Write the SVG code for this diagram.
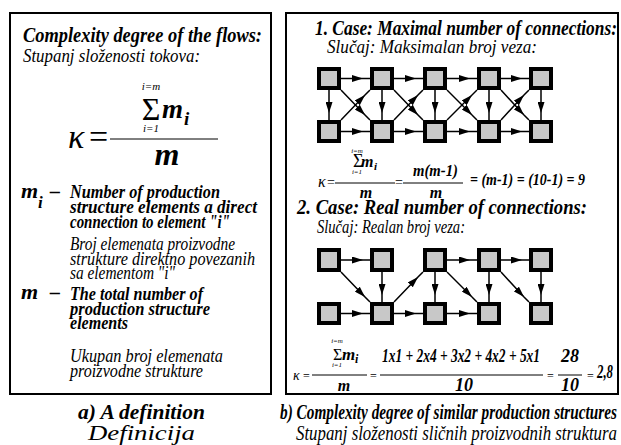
<svg xmlns="http://www.w3.org/2000/svg" width="621" height="445" viewBox="0 0 621 445">
<defs>
<style>
text{font-family:"Liberation Serif","DejaVu Serif","Noto Serif",serif;fill:#000}
.bi{font-weight:bold;font-style:italic}
.it{font-style:italic}
.panel{fill:#fff;stroke:#000;stroke-width:2}
.node rect{fill:#c8c8c8;stroke:#000;stroke-width:4}
.fl{stroke:#000;stroke-width:1}
#connectors path{fill:none;stroke:#000;stroke-width:1.5;marker-mid:url(#ah)}
</style>
<marker id="ah" viewBox="0 0 11 7" refX="11" refY="3.5" markerWidth="11" markerHeight="7" markerUnits="userSpaceOnUse" orient="auto">
<path d="M0,0 L11,3.5 L0,7 z" fill="#000"/>
</marker>
</defs>
<rect width="621" height="445" fill="#fff"/>

<g id="panel-a">
<rect class="panel" x="10" y="13" width="261" height="381"/>
<text class="bi" x="23" y="42" font-size="20.5" textLength="239" lengthAdjust="spacingAndGlyphs">Complexity degree of the flows:</text>
<text class="it" x="23" y="62" font-size="19" textLength="177" lengthAdjust="spacingAndGlyphs">Stupanj složenosti tokova:</text>
<text class="it" x="68" y="148" font-size="34">κ</text>
<text x="89" y="148" font-size="34">=</text>
<line class="fl" x1="110" y1="139" x2="218" y2="139"/>
<text class="it" x="151" y="90" font-size="11" text-anchor="middle">i=m</text>
<text x="151" y="120" font-size="32" text-anchor="middle">Σ</text>
<text class="it" x="151" y="132" font-size="11" text-anchor="middle">i=1</text>
<text class="bi" x="162" y="118" font-size="27">m</text>
<text class="bi" x="184" y="125" font-size="19">i</text>
<text class="bi" x="167" y="165" font-size="32" text-anchor="middle">m</text>

<text class="bi" x="21" y="198" font-size="22">m</text>
<text class="bi" x="38" y="208" font-size="17">i</text>
<text class="bi" x="50" y="198" font-size="20">–</text>
<text class="bi" x="70" y="198" font-size="19.5" textLength="150" lengthAdjust="spacingAndGlyphs">Number of production</text>
<text class="bi" x="70" y="213" font-size="19.5" textLength="187" lengthAdjust="spacingAndGlyphs">structure elements a direct</text>
<text class="bi" x="70" y="228" font-size="19.5" textLength="160" lengthAdjust="spacingAndGlyphs">connection to element "i"</text>
<text class="it" x="70" y="250" font-size="18.5" textLength="165" lengthAdjust="spacingAndGlyphs">Broj elemenata proizvodne</text>
<text class="it" x="70" y="265" font-size="18.5" textLength="185" lengthAdjust="spacingAndGlyphs">strukture direktno povezanih</text>
<text class="it" x="70" y="279" font-size="18.5" textLength="105" lengthAdjust="spacingAndGlyphs">sa elementom "i"</text>

<text class="bi" x="21" y="299" font-size="22">m</text>
<text class="bi" x="50" y="299" font-size="20">–</text>
<text class="bi" x="70" y="300" font-size="19.5" textLength="133" lengthAdjust="spacingAndGlyphs">The total number of</text>
<text class="bi" x="70" y="315" font-size="19.5" textLength="140" lengthAdjust="spacingAndGlyphs">production structure</text>
<text class="bi" x="70" y="329" font-size="19.5" textLength="58" lengthAdjust="spacingAndGlyphs">elements</text>
<text class="it" x="70" y="362" font-size="18.5" textLength="153" lengthAdjust="spacingAndGlyphs">Ukupan broj elemenata</text>
<text class="it" x="70" y="377" font-size="18.5" textLength="133" lengthAdjust="spacingAndGlyphs">proizvodne strukture</text>
</g>
<text class="bi" x="78" y="419" font-size="21" textLength="127" lengthAdjust="spacingAndGlyphs">a) A definition</text>
<text class="it" x="88" y="440" font-size="21" textLength="107" lengthAdjust="spacingAndGlyphs">Definicija</text>

<g id="panel-b">
<rect class="panel" x="286" y="13" width="332" height="381"/>
<text class="bi" x="315" y="35" font-size="20.5" textLength="302" lengthAdjust="spacingAndGlyphs">1. Case: Maximal number of connections:</text>
<text class="it" x="327" y="53" font-size="18.5" textLength="210" lengthAdjust="spacingAndGlyphs">Slučaj: Maksimalan broj veza:</text>

<text class="it" x="318" y="187" font-size="16">κ</text>
<text x="327" y="187" font-size="14">=</text>
<line class="fl" x1="335" y1="183" x2="395" y2="183"/>
<text class="it" x="357" y="153" font-size="7" text-anchor="middle">i=m</text>
<text x="353" y="167" font-size="18">Σ</text>
<text class="it" x="357" y="174" font-size="7" text-anchor="middle">i=1</text>
<text class="bi" x="361" y="167" font-size="16">m</text>
<text class="bi" x="374" y="170" font-size="11">i</text>
<text class="bi" x="366" y="198" font-size="16" text-anchor="middle">m</text>
<text x="395" y="187" font-size="14">=</text>
<text class="bi" x="413" y="176" font-size="17" textLength="45" lengthAdjust="spacingAndGlyphs">m(m-1)</text>
<line class="fl" x1="403" y1="183" x2="463" y2="183"/>
<text class="bi" x="436" y="198" font-size="16" text-anchor="middle">m</text>
<text class="bi" x="470" y="185" font-size="17" textLength="115" lengthAdjust="spacingAndGlyphs">= (m-1) = (10-1) = 9</text>

<text class="bi" x="297" y="214" font-size="20.5" textLength="290" lengthAdjust="spacingAndGlyphs">2. Case: Real number of connections:</text>
<text class="it" x="317" y="233" font-size="18.5" textLength="148" lengthAdjust="spacingAndGlyphs">Slučaj: Realan broj veza:</text>

<text class="it" x="293" y="380" font-size="14">κ</text>
<text x="303" y="380" font-size="12">=</text>
<line class="fl" x1="312" y1="375" x2="367" y2="375"/>
<text class="it" x="337" y="343" font-size="7" text-anchor="middle">i=m</text>
<text x="333" y="360" font-size="16">Σ</text>
<text class="it" x="337" y="367" font-size="7" text-anchor="middle">i=1</text>
<text class="bi" x="342" y="360" font-size="17">m</text>
<text class="bi" x="355" y="363" font-size="12">i</text>
<text class="bi" x="344" y="391" font-size="16" text-anchor="middle">m</text>
<text x="370" y="380" font-size="12">=</text>
<text class="bi" x="382" y="362" font-size="18" textLength="158" lengthAdjust="spacingAndGlyphs">1x1 + 2x4 + 3x2 + 4x2 + 5x1</text>
<line class="fl" x1="380" y1="375" x2="543" y2="375"/>
<text class="bi" x="464" y="391" font-size="18" text-anchor="middle">10</text>
<text x="547" y="380" font-size="12">=</text>
<text class="bi" x="570" y="362" font-size="18" text-anchor="middle">28</text>
<line class="fl" x1="558" y1="375" x2="582" y2="375"/>
<text class="bi" x="570" y="391" font-size="18" text-anchor="middle">10</text>
<text x="587" y="380" font-size="12">=</text>
<text class="bi" x="597" y="378" font-size="18" textLength="16" lengthAdjust="spacingAndGlyphs">2,8</text>
</g>
<text class="bi" x="280" y="419" font-size="21" textLength="337" lengthAdjust="spacingAndGlyphs">b) Complexity degree of similar production structures</text>
<text class="it" x="296" y="440" font-size="20" textLength="321" lengthAdjust="spacingAndGlyphs">Stupanj složenosti sličnih proizvodnih struktura</text>

<g id="connectors">
<path d="M341,78.5 L363,78.5 L370,78.5"/>
<path d="M394,78.5 L416,78.5 L423,78.5"/>
<path d="M447,78.5 L470,78.5 L477,78.5"/>
<path d="M501,78.5 L522,78.5 L529,78.5"/>
<path d="M341,131.5 L363,131.5 L370,131.5"/>
<path d="M394,131.5 L416,131.5 L423,131.5"/>
<path d="M447,131.5 L470,131.5 L477,131.5"/>
<path d="M501,131.5 L522,131.5 L529,131.5"/>
<path d="M329,90 L329,113 L329,120"/>
<path d="M382,90 L382,113 L382,120"/>
<path d="M435,90 L435,113 L435,120"/>
<path d="M489,90 L489,113 L489,120"/>
<path d="M541,90 L541,113 L541,120"/>
<path d="M341,90 L365,115 L370,120"/>
<path d="M341,120 L365,95 L370,90"/>
<path d="M394,90 L418,115 L423,120"/>
<path d="M394,120 L418,95 L423,90"/>
<path d="M447,90 L472,115 L477,120"/>
<path d="M447,120 L472,95 L477,90"/>
<path d="M501,90 L524,115 L529,120"/>
<path d="M501,120 L524,95 L529,90"/>
<path d="M341,260 L363,260 L370,260"/>
<path d="M447,260 L470,260 L477,260"/>
<path d="M501,260 L522,260 L529,260"/>
<path d="M341,313.5 L363,313.5 L370,313.5"/>
<path d="M394,313.5 L416,313.5 L423,313.5"/>
<path d="M447,313.5 L470,313.5 L477,313.5"/>
<path d="M382,272 L382,295 L382,302"/>
<path d="M435,272 L435,295 L435,302"/>
<path d="M489,272 L489,295 L489,302"/>
<path d="M541,272 L541,295 L541,302"/>
<path d="M341,272 L365,297 L370,302"/>
<path d="M394,302 L418,277 L423,272"/>
<path d="M447,272 L472,297 L477,302"/>
<path d="M501,272 L524,297 L529,302"/>
</g>

<g id="g1-t1" class="node"><rect x="319" y="69" width="20" height="19"/></g>
<g id="g1-t2" class="node"><rect x="372" y="69" width="20" height="19"/></g>
<g id="g1-t3" class="node"><rect x="425" y="69" width="20" height="19"/></g>
<g id="g1-t4" class="node"><rect x="479" y="69" width="20" height="19"/></g>
<g id="g1-t5" class="node"><rect x="531" y="69" width="20" height="19"/></g>
<g id="g1-b1" class="node"><rect x="319" y="122" width="20" height="19"/></g>
<g id="g1-b2" class="node"><rect x="372" y="122" width="20" height="19"/></g>
<g id="g1-b3" class="node"><rect x="425" y="122" width="20" height="19"/></g>
<g id="g1-b4" class="node"><rect x="479" y="122" width="20" height="19"/></g>
<g id="g1-b5" class="node"><rect x="531" y="122" width="20" height="19"/></g>
<g id="g2-t1" class="node"><rect x="319" y="250" width="20" height="20"/></g>
<g id="g2-t2" class="node"><rect x="372" y="250" width="20" height="20"/></g>
<g id="g2-t3" class="node"><rect x="425" y="250" width="20" height="20"/></g>
<g id="g2-t4" class="node"><rect x="479" y="250" width="20" height="20"/></g>
<g id="g2-t5" class="node"><rect x="531" y="250" width="20" height="20"/></g>
<g id="g2-b1" class="node"><rect x="319" y="304" width="20" height="19"/></g>
<g id="g2-b2" class="node"><rect x="372" y="304" width="20" height="19"/></g>
<g id="g2-b3" class="node"><rect x="425" y="304" width="20" height="19"/></g>
<g id="g2-b4" class="node"><rect x="479" y="304" width="20" height="19"/></g>
<g id="g2-b5" class="node"><rect x="531" y="304" width="20" height="19"/></g>
</svg>
